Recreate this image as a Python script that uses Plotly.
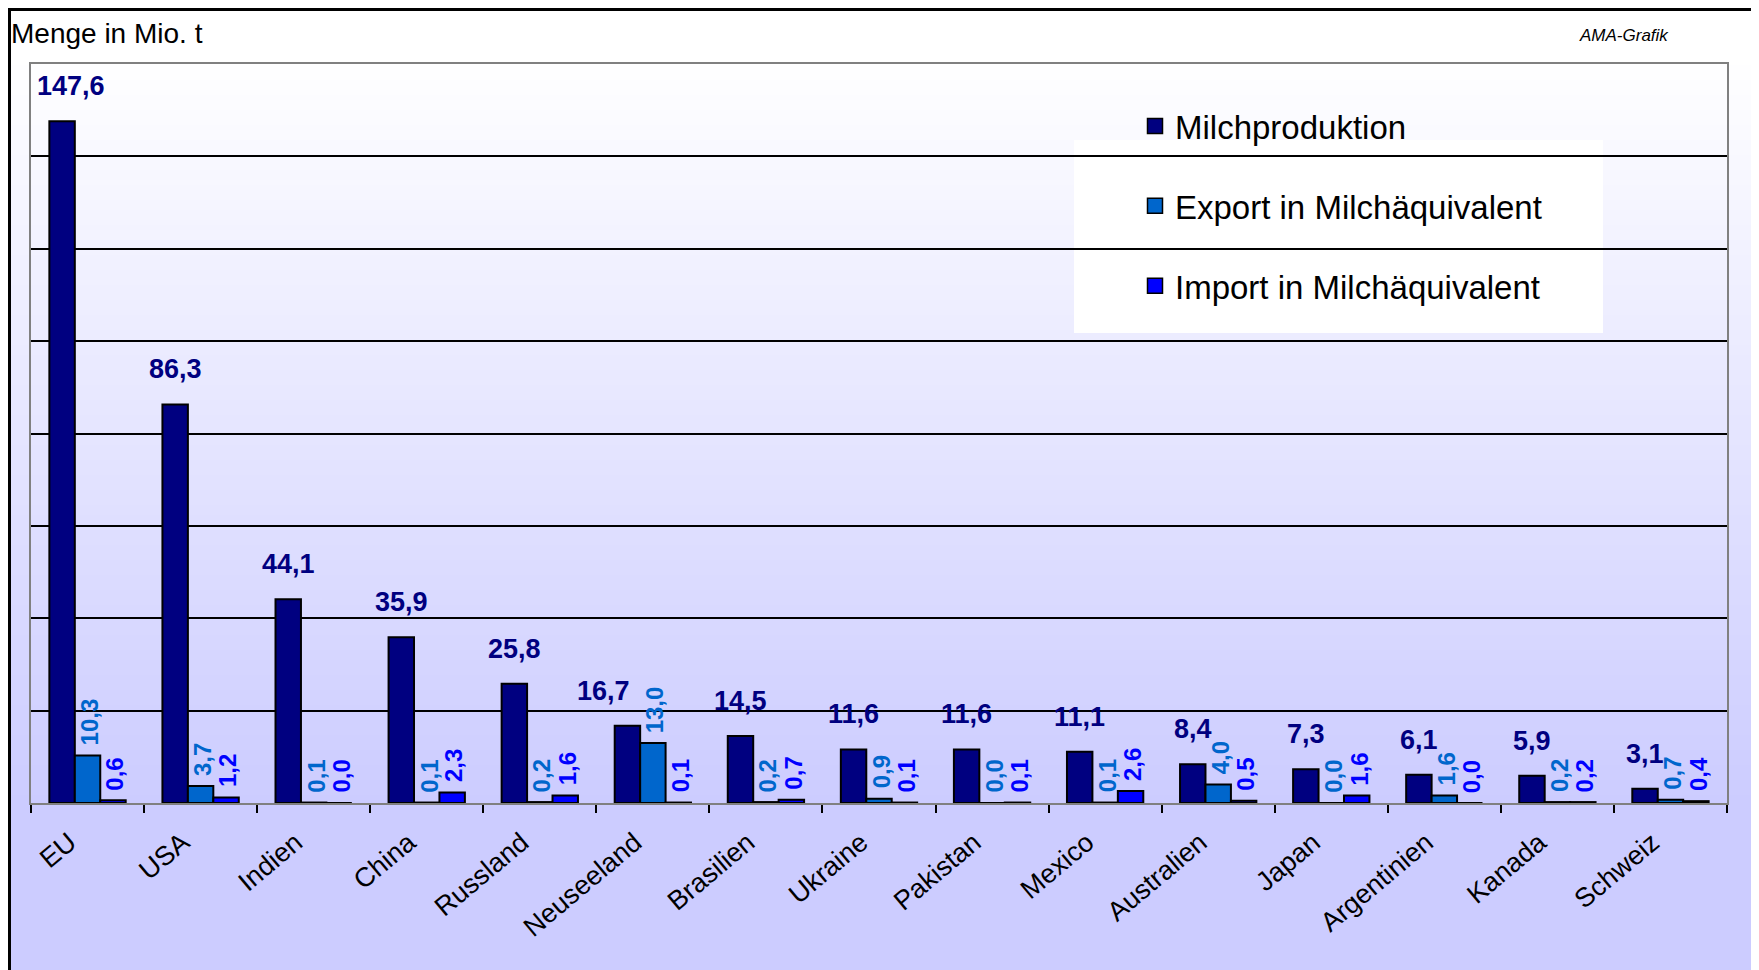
import plotly.graph_objects as go

# ---------------- data ----------------
categories = ["EU", "USA", "Indien", "China", "Russland", "Neuseeland", "Brasilien",
              "Ukraine", "Pakistan", "Mexico", "Australien", "Japan", "Argentinien",
              "Kanada", "Schweiz"]
milchproduktion = [147.6, 86.3, 44.1, 35.9, 25.8, 16.7, 14.5, 11.6, 11.6, 11.1, 8.4, 7.3, 6.1, 5.9, 3.1]
export_mae = [10.3, 3.7, 0.1, 0.1, 0.2, 13.0, 0.2, 0.9, 0.0, 0.1, 4.0, 0.0, 1.6, 0.2, 0.7]
import_mae = [0.6, 1.2, 0.0, 2.3, 1.6, 0.1, 0.7, 0.1, 0.1, 2.6, 0.5, 1.6, 0.0, 0.2, 0.4]
series_names = ["Milchproduktion", "Export in Milchäquivalent", "Import in Milchäquivalent"]
y_title = "Menge in Mio. t"
source_note = "AMA-Grafik"

# ---------------- style / layout ----------------
OFF = 8                      # page body margin in the browser
W, H = 1759 - OFF, 970 - OFF
PL, PR, PT, PB = 31, 1727, 64, 803          # plot box in page pixels
ML, MR, MT, MB = PL - OFF, W - (PR - OFF), PT - OFF, H - (PB - OFF)
PW, PH = W - ML - MR, H - MT - MB
FONT = "Liberation Sans, Arial, sans-serif"
C_MILK, C_EXP, C_IMP = "#000080", "#0066CC", "#0000FF"
BARGAP = 0.325
bar_px = PW / len(categories) * (1 - BARGAP) / 3
label_nudge = {"EU": 9, "Neuseeland": -24}


def pxx(px):
    """page x pixel -> paper coordinate"""
    return (px - OFF - ML) / PW


def pxy(py):
    """page y pixel -> paper coordinate"""
    return (H - MB - (py - OFF)) / PH


def fmt(v):
    return f"{v:.1f}".replace(".", ",")


fig = go.Figure()
series = [(milchproduktion, series_names[0], C_MILK),
          (export_mae, series_names[1], C_EXP),
          (import_mae, series_names[2], C_IMP)]
for vals, name, col in series:
    fig.add_trace(go.Bar(x=categories, y=vals, name=name, legendgroup=name, showlegend=False,
                         marker=dict(color=col, line=dict(color="black", width=2)),
                         hoverinfo="x+y"))
# legend entries with larger square keys (same legend groups as the bars)
for vals, name, col in series:
    fig.add_trace(go.Scatter(x=[None], y=[None], mode="markers", name=name, legendgroup=name,
                             marker=dict(symbol="square", size=15, color=col,
                                         line=dict(color="black", width=1.5))))

# gradient background bands
shapes = []
g0, g1, step = 60, 800, 5
for py in range(g0, g1, step):
    t = (py + step / 2 - g0) / (g1 - g0)
    c = round(255 - t * 51)
    shapes.append(dict(type="rect", xref="paper", yref="paper", layer="below",
                       x0=pxx(0), x1=pxx(1770), y0=pxy(py + step + 0.5), y1=pxy(py),
                       fillcolor=f"rgb({c},{c},255)", line=dict(width=0)))
shapes.append(dict(type="rect", xref="paper", yref="paper", layer="below",
                   x0=pxx(0), x1=pxx(1770), y0=pxy(990), y1=pxy(g1),
                   fillcolor="rgb(204,204,255)", line=dict(width=0)))
# legend white box (between gridlines and bars)
shapes.append(dict(type="rect", xref="paper", yref="paper", layer="between",
                   x0=pxx(1074), x1=pxx(1603), y0=pxy(333), y1=pxy(140),
                   fillcolor="white", line=dict(width=0)))
# outer black frame
shapes.append(dict(type="rect", xref="paper", yref="paper", layer="above",
                   x0=pxx(OFF + 1.5), x1=pxx(1757), y0=pxy(1000), y1=pxy(OFF + 1.5),
                   fillcolor="rgba(0,0,0,0)", line=dict(color="black", width=3)))

annotations = []
for i, cat in enumerate(categories):
    annotations.append(dict(x=cat, y=milchproduktion[i], xref="x", yref="y",
                            text=fmt(milchproduktion[i]), showarrow=False,
                            xanchor="center", yanchor="bottom",
                            xshift=-bar_px + label_nudge.get(cat, 0), yshift=18,
                            font=dict(family=FONT, size=27, color=C_MILK, weight="bold")))
    annotations.append(dict(x=cat, y=export_mae[i], xref="x", yref="y",
                            text=fmt(export_mae[i]), showarrow=False, textangle=-90,
                            xanchor="center", yanchor="bottom", xshift=2, yshift=8,
                            font=dict(family=FONT, size=24, color=C_EXP, weight="bold")))
    annotations.append(dict(x=cat, y=import_mae[i], xref="x", yref="y",
                            text=fmt(import_mae[i]), showarrow=False, textangle=-90,
                            xanchor="center", yanchor="bottom", xshift=bar_px + 2, yshift=8,
                            font=dict(family=FONT, size=24, color=C_IMP, weight="bold")))

annotations.append(dict(xref="paper", yref="paper", x=pxx(9), y=pxy(33), text=y_title,
                        showarrow=False, xanchor="left", yanchor="middle",
                        font=dict(family=FONT, size=28, color="black")))
annotations.append(dict(xref="paper", yref="paper", x=pxx(1577), y=pxy(35), text=source_note,
                        showarrow=False, xanchor="left", yanchor="middle",
                        font=dict(family=FONT, size=17, color="black", style="italic")))

fig.update_layout(
    width=W, height=H,
    margin=dict(l=ML, r=MR, t=MT, b=MB, autoexpand=False),
    paper_bgcolor="white", plot_bgcolor="rgba(0,0,0,0)",
    barmode="group", bargap=BARGAP, bargroupgap=0,
    font=dict(family=FONT, color="black"),
    shapes=shapes, annotations=annotations,
    legend=dict(x=pxx(1135), y=pxy(98), xanchor="left", yanchor="top",
                bgcolor="rgba(0,0,0,0)", borderwidth=0, itemsizing="trace",
                font=dict(family=FONT, size=33, color="black"),
                tracegroupgap=34, traceorder="grouped"),
    xaxis=dict(type="category", tickangle=-40, tickfont=dict(family=FONT, size=27, color="black"),
               ticklabelshift=-18, ticklabelstandoff=11,
               showline=True, linecolor="#808080", linewidth=2, mirror=True,
               ticks="outside", tickson="boundaries", ticklen=8, tickcolor="black", tickwidth=1.5,
               showgrid=False, automargin=False),
    yaxis=dict(range=[0, 160], dtick=20, showticklabels=False, ticks="",
               showgrid=True, gridcolor="black", gridwidth=1.8, zeroline=False,
               showline=True, linecolor="#808080", linewidth=2, mirror=True, automargin=False),
)

fig.write_html("out.html")
